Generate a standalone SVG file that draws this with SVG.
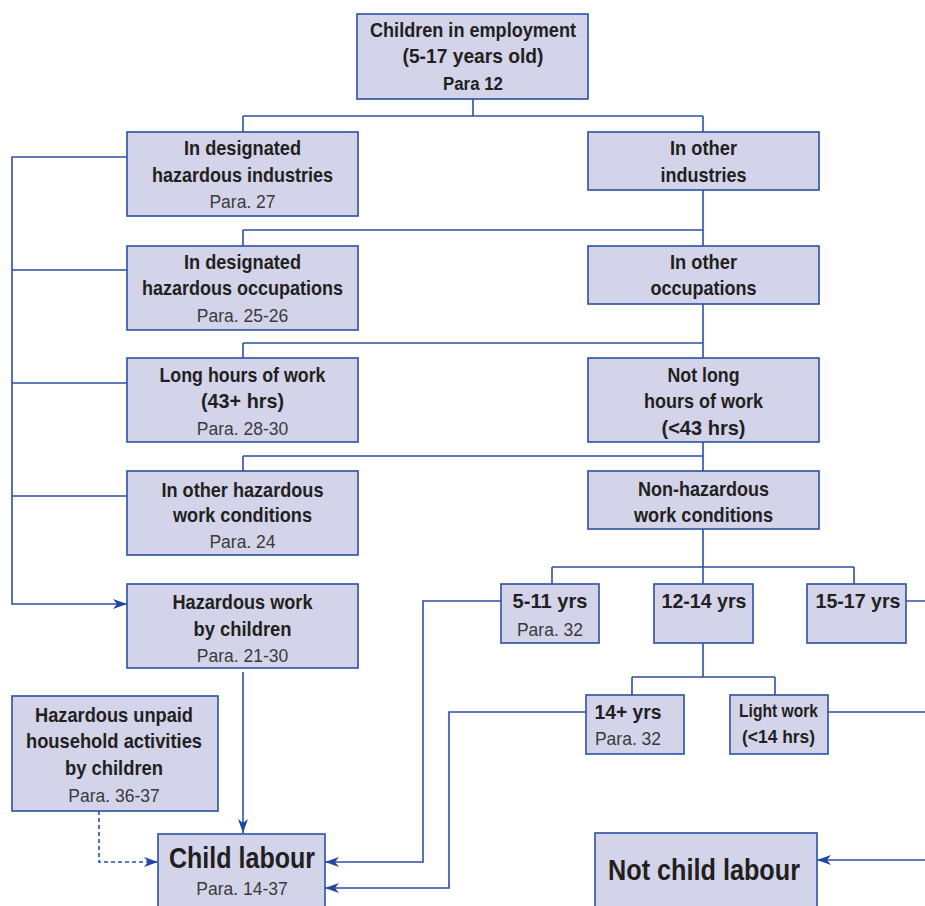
<svg xmlns="http://www.w3.org/2000/svg" width="925" height="906" viewBox="0 0 925 906">
<defs>
<style>
.box{fill:#d3d4ea;stroke:#2c50a0;stroke-width:1.6}
.b{font-family:"Liberation Sans",Arial,sans-serif;font-weight:bold;font-size:21px;fill:#231f20;text-anchor:middle}
.p{font-family:"Liberation Sans",Arial,sans-serif;font-size:17.5px;fill:#3a3a3a;text-anchor:middle}
.s{font-size:17.5px}
.L{font-size:29px}
.ln{fill:none;stroke:#2c50a0;stroke-width:1.6}
.dash{stroke-dasharray:4,3}
</style>
<marker id="ah" viewBox="0 0 14 10" refX="14" refY="5" markerWidth="14" markerHeight="10" markerUnits="userSpaceOnUse" orient="auto">
<path d="M0,0 L14,5 L0,10 L4,5 z" fill="#1f46a0"/>
</marker>
</defs>
<rect width="925" height="906" fill="#ffffff"/>
<g id="connectors">
<path class="ln" d="M473,99 V116 M243,116 H703 M243,116 V132 M703,116 V132"/>
<path class="ln" d="M703,190 V246 M243,230 H703 M243,230 V246"/>
<path class="ln" d="M703,304 V358 M243,343 H703 M243,343 V358"/>
<path class="ln" d="M703,442 V471 M243,456 H703 M243,456 V471"/>
<path class="ln" d="M12,270 H127 M12,383 H127 M12,496 H127"/>
<path class="ln" d="M127,157 H12 V604 H127" marker-end="url(#ah)"/>
<path class="ln" d="M243,672 V833" marker-end="url(#ah)"/>
<path class="ln dash" d="M99,811 V862 H158" marker-end="url(#ah)"/>
<path class="ln" d="M703,529 V584 M552,567 H854 M552,567 V584 M854,567 V584"/>
<path class="ln" d="M501,601 H423 V862 H325" marker-end="url(#ah)"/>
<path class="ln" d="M703,643 V677 M632,677 H775 M632,677 V695 M775,677 V695"/>
<path class="ln" d="M586,712 H449 V888 H325" marker-end="url(#ah)"/>
<path class="ln" d="M906,601 H925 M828,712 H925"/>
<path class="ln" d="M925,860 H817" marker-end="url(#ah)"/>
</g>
<g id="n_children">
<rect class="box" x="357" y="14" width="231" height="85"/>
<text class="b" x="473" y="37" textLength="206" lengthAdjust="spacingAndGlyphs">Children in employment</text>
<text class="b" x="473" y="63" textLength="141" lengthAdjust="spacingAndGlyphs">(5-17 years old)</text>
<text class="b s" x="473" y="90" textLength="60" lengthAdjust="spacingAndGlyphs">Para 12</text>
</g>
<g id="n_haz_ind">
<rect class="box" x="127" y="132" width="231" height="84"/>
<text class="b" x="242.5" y="155" textLength="117" lengthAdjust="spacingAndGlyphs">In designated</text>
<text class="b" x="242.5" y="182" textLength="181" lengthAdjust="spacingAndGlyphs">hazardous industries</text>
<text class="p" x="242.5" y="208">Para. 27</text>
</g>
<g id="n_other_ind">
<rect class="box" x="588" y="132" width="231" height="58"/>
<text class="b" x="703.5" y="155" textLength="67" lengthAdjust="spacingAndGlyphs">In other</text>
<text class="b" x="703.5" y="182" textLength="86" lengthAdjust="spacingAndGlyphs">industries</text>
</g>
<g id="n_haz_occ">
<rect class="box" x="127" y="246" width="231" height="84"/>
<text class="b" x="242.5" y="269" textLength="117" lengthAdjust="spacingAndGlyphs">In designated</text>
<text class="b" x="242.5" y="295" textLength="201" lengthAdjust="spacingAndGlyphs">hazardous occupations</text>
<text class="p" x="242.5" y="322">Para. 25-26</text>
</g>
<g id="n_other_occ">
<rect class="box" x="588" y="246" width="231" height="58"/>
<text class="b" x="703.5" y="269" textLength="67" lengthAdjust="spacingAndGlyphs">In other</text>
<text class="b" x="703.5" y="295" textLength="106" lengthAdjust="spacingAndGlyphs">occupations</text>
</g>
<g id="n_long">
<rect class="box" x="127" y="358" width="231" height="84"/>
<text class="b" x="242.5" y="382" textLength="166" lengthAdjust="spacingAndGlyphs">Long hours of work</text>
<text class="b" x="242.5" y="408" textLength="83" lengthAdjust="spacingAndGlyphs">(43+ hrs)</text>
<text class="p" x="242.5" y="435">Para. 28-30</text>
</g>
<g id="n_notlong">
<rect class="box" x="588" y="358" width="231" height="84"/>
<text class="b" x="703.5" y="382" textLength="72" lengthAdjust="spacingAndGlyphs">Not long</text>
<text class="b" x="703.5" y="408" textLength="119" lengthAdjust="spacingAndGlyphs">hours of work</text>
<text class="b" x="703.5" y="435" textLength="84" lengthAdjust="spacingAndGlyphs">(&lt;43 hrs)</text>
</g>
<g id="n_other_haz">
<rect class="box" x="127" y="471" width="231" height="84"/>
<text class="b" x="242.5" y="497" textLength="162" lengthAdjust="spacingAndGlyphs">In other hazardous</text>
<text class="b" x="242.5" y="522" textLength="139" lengthAdjust="spacingAndGlyphs">work conditions</text>
<text class="p" x="242.5" y="548">Para. 24</text>
</g>
<g id="n_nonhaz">
<rect class="box" x="588" y="471" width="231" height="58"/>
<text class="b" x="703.5" y="496" textLength="131" lengthAdjust="spacingAndGlyphs">Non-hazardous</text>
<text class="b" x="703.5" y="522" textLength="139" lengthAdjust="spacingAndGlyphs">work conditions</text>
</g>
<g id="n_hazwork">
<rect class="box" x="127" y="584" width="231" height="84"/>
<text class="b" x="242.5" y="609" textLength="140" lengthAdjust="spacingAndGlyphs">Hazardous work</text>
<text class="b" x="242.5" y="636" textLength="98" lengthAdjust="spacingAndGlyphs">by children</text>
<text class="p" x="242.5" y="662">Para. 21-30</text>
</g>
<g id="n_unpaid">
<rect class="box" x="12" y="696" width="206" height="115"/>
<text class="b" x="114" y="722" textLength="158" lengthAdjust="spacingAndGlyphs">Hazardous unpaid</text>
<text class="b" x="114" y="748" textLength="176" lengthAdjust="spacingAndGlyphs">household activities</text>
<text class="b" x="114" y="775" textLength="98" lengthAdjust="spacingAndGlyphs">by children</text>
<text class="p" x="114" y="802">Para. 36-37</text>
</g>
<g id="n_5_11">
<rect class="box" x="501" y="584" width="98" height="59"/>
<text class="b" x="550" y="608" textLength="75" lengthAdjust="spacingAndGlyphs">5-11 yrs</text>
<text class="p" x="550" y="636">Para. 32</text>
</g>
<g id="n_12_14">
<rect class="box" x="654" y="584" width="99" height="59"/>
<text class="b" x="704" y="608" textLength="85" lengthAdjust="spacingAndGlyphs">12-14 yrs</text>
</g>
<g id="n_15_17">
<rect class="box" x="807" y="584" width="99" height="59"/>
<text class="b" x="858" y="608" textLength="85" lengthAdjust="spacingAndGlyphs">15-17 yrs</text>
</g>
<g id="n_14plus">
<rect class="box" x="586" y="695" width="98" height="59"/>
<text class="b" x="628" y="719" textLength="67" lengthAdjust="spacingAndGlyphs">14+ yrs</text>
<text class="p" x="628" y="745">Para. 32</text>
</g>
<g id="n_light">
<rect class="box" x="730" y="695" width="98" height="59"/>
<text class="b s" x="778.5" y="717" textLength="79" lengthAdjust="spacingAndGlyphs">Light work</text>
<text class="b s" x="778.5" y="743" textLength="73" lengthAdjust="spacingAndGlyphs">(&lt;14 hrs)</text>
</g>
<g id="n_childlabour">
<rect class="box" x="158" y="834" width="167" height="90"/>
<text class="b L" x="242" y="868" textLength="146" lengthAdjust="spacingAndGlyphs">Child labour</text>
<text class="p" x="242" y="895">Para. 14-37</text>
</g>
<g id="n_notchild">
<rect class="box" x="595" y="833" width="222" height="90"/>
<text class="b L" x="704" y="880" textLength="192" lengthAdjust="spacingAndGlyphs">Not child labour</text>
</g>
</svg>
